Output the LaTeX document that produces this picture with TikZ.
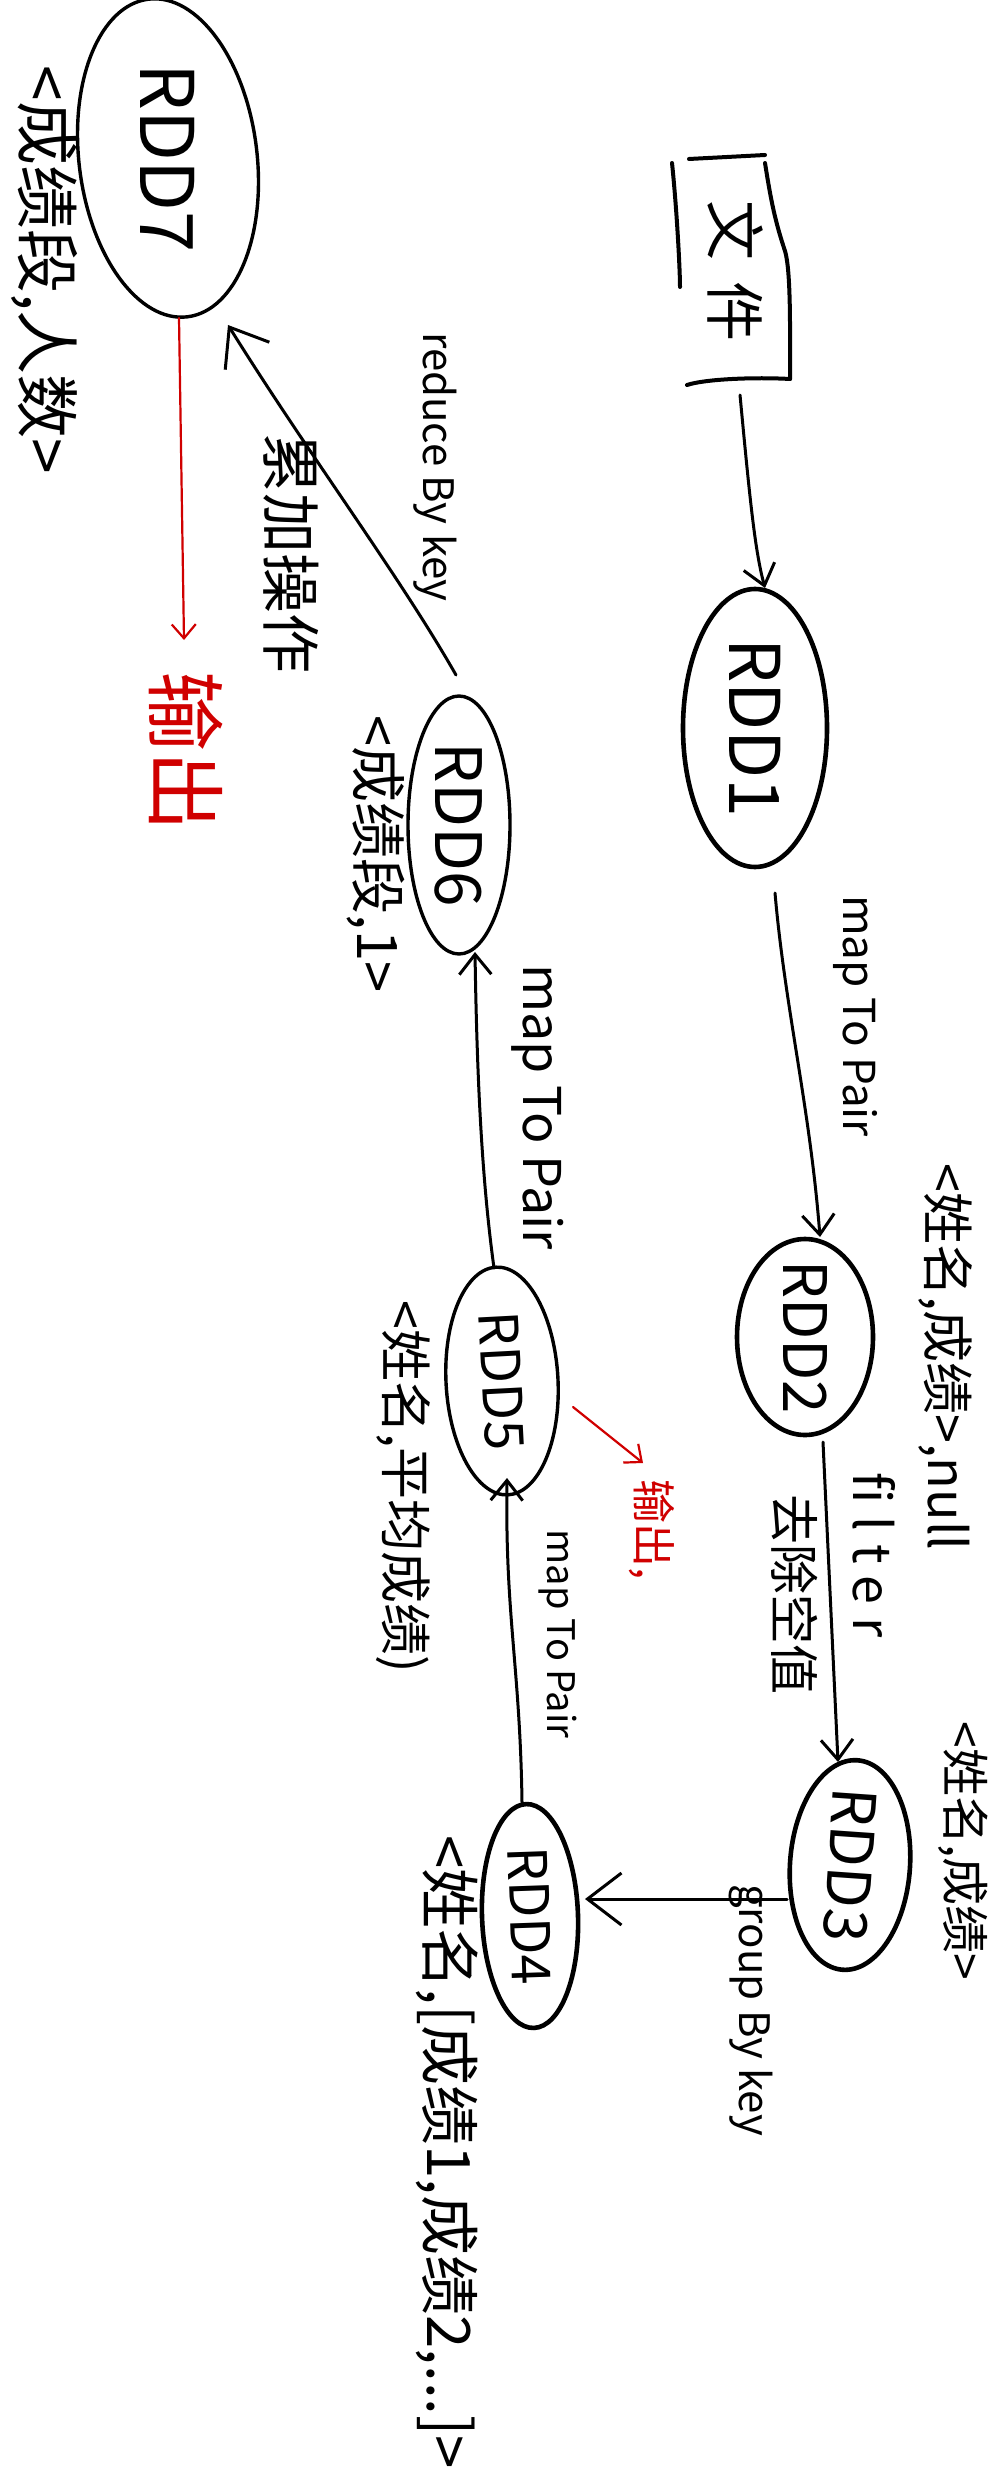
\documentclass[tikz,border=0pt]{standalone}
\usepackage{fontspec}
\setmainfont{Noto Sans CJK SC}
\usetikzlibrary{shapes.geometric,arrows.meta,calc}
\definecolor{hred}{HTML}{D00000}
\newcommand{\fsz}[1]{\fontsize{#1}{#1}\selectfont}
\newcommand{\zw}[1]{\makebox[0pt]{#1}}
\begin{document}
\begin{tikzpicture}[x=0.5pt,y=-0.5pt,
  rdd/.style={ellipse,draw,inner sep=0pt,line width=2.3pt},
  thinrdd/.style={ellipse,draw,inner sep=0pt,line width=1.7pt},
  lbl/.style={rotate=-90,inner sep=0pt},
  redlbl/.style={rotate=-90,inner sep=0pt,text=hred},
  arr/.style={line width=1.5pt,line cap=round,-{Straight Barb[length=10pt,width=16pt]}},
  bigarr/.style={line width=1.5pt,line cap=round,-{Straight Barb[length=17pt,width=26pt]}},
  redarr/.style={line width=1.1pt,line cap=round,draw=hred,-{Straight Barb[length=7pt,width=12pt]}},
  boxline/.style={line width=2pt,line cap=round,line join=round}]
\fill[white] (0,0) rectangle (1000,2482);
\useasboundingbox (0,0) rectangle (1000,2482);

% file box
\node[lbl,minimum width=110pt,minimum height=55pt] (wj) at (735,271) {\fsz{30}文\hspace{0.35em}件};
\draw[boxline] ($(wj)+(-63,-108)$) .. controls ($(wj)+(-58,-60)$) and ($(wj)+(-55,0)$) .. ($(wj)+(-55,16)$);
\draw[boxline] ($(wj)+(-46,-112)$) -- ($(wj)+(30,-116)$);
\draw[boxline] ($(wj)+(30,-108)$) .. controls ($(wj)+(36,-70)$) and ($(wj)+(40,-50)$) .. ($(wj)+(50,-20)$) .. controls ($(wj)+(56,0)$) and ($(wj)+(55,60)$) .. ($(wj)+(55,108)$);
\draw[boxline] ($(wj)+(-48,114)$) .. controls ($(wj)+(-30,108)$) and ($(wj)+(20,106)$) .. ($(wj)+(55,108)$);

% RDD nodes
\node[rdd,rotate=-90,minimum width=139pt,minimum height=72pt] (rdd1) at (755,728) {\zw{\fsz{35}RDD1}};
\node[rdd,rotate=-90,minimum width=98pt,minimum height=68pt] (rdd2) at (805,1337) {\zw{\fsz{30}RDD2}};
\node[rdd,rotate=-94,minimum width=105pt,minimum height=60pt] (rdd3) at (850,1865) {\zw{\fsz{30}RDD3}};
\node[rdd,rotate=-88,minimum width=112pt,minimum height=48pt] (rdd4) at (530,1916) {\zw{\fsz{27}RDD4}};
\node[thinrdd,rotate=-87,minimum width=114pt,minimum height=56pt] (rdd5) at (502,1381) {\zw{\fsz{27}RDD5}};
\node[thinrdd,rotate=-90,minimum width=129pt,minimum height=51pt] (rdd6) at (459,825) {\zw{\fsz{32}RDD6}};
\node[thinrdd,rotate=-83,minimum width=160pt,minimum height=89pt] (rdd7) at (168,158) {};
\node[lbl] (rdd7t) at (rdd7) {\fsz{37}RDD7};

% labels
\node[lbl] (l7) at (44,270) {\fsz{32}<成绩段,人数>};
\node[redlbl] (out7) at (186,751) {\fsz{40}输出};
\node[lbl] (lred) at (435,467) {\fsz{21}reduce By key};
\node[lbl] (lacc) at (291,554) {\fsz{30}累加操作};
\node[lbl] (l6) at (376,854) {\fsz{28}<成绩段,1>};
\node[lbl] (lm56) at (538,1107) {\fsz{26}map To Pair};
\node[lbl] (l5) at (403,1487) {\fsz{26}<姓名,平均成绩)};
\node[redlbl] (out5) at (652,1530) {\fsz{22}输出,};
\node[lbl] (lm45) at (558,1634) {\fsz{19}map To Pair};
\node[lbl] (l4) at (447,2152) {\fsz{30}<姓名,[成绩1,成绩2,...]>};
\node[lbl] (lgb) at (751,2010) {\fsz{21}group By key};
\node[lbl] (l3) at (963,1851) {\fsz{24}<姓名,成绩>};
\node[lbl] (l2) at (945,1357) {\fsz{26}<姓名,成绩>,null};
\node[lbl] (lf) at (874,1555) {\fsz{26}\addfontfeature{LetterSpace=25}filter};
\node[lbl] (lrm) at (795,1594) {\fsz{25}去除空值};
\node[lbl] (lm12) at (855,1016) {\fsz{22}map To Pair};

% connectors
\draw[arr] ($(wj)+(5,124)$) .. controls ($(wj)+(15,230)$) and ($(wj)+(20,280)$) .. ($(rdd1)+(10,-140)$);
\draw[arr] ($(rdd1)+(20,165)$) .. controls ($(rdd1)+(30,280)$) and ($(rdd1)+(55,380)$) .. ($(rdd2)+(15,-100)$);
\draw[arr] ($(rdd2)+(18,105)$) -- ($(rdd3)+(-12,-103)$);
\draw[bigarr] ($(rdd3)+(-63,34)$) -- ($(rdd4)+(55,-17)$);
\draw[arr] ($(rdd4)+(-8,-114)$) .. controls ($(rdd4)+(-10,-250)$) and ($(rdd4)+(-25,-300)$) .. ($(rdd5)+(5,97)$);
\draw[arr] ($(rdd5)+(-8,-113)$) .. controls ($(rdd5)+(-20,-200)$) and ($(rdd5)+(-25,-300)$) .. ($(rdd6)+(16,127)$);
\draw[bigarr] ($(rdd6)+(-3,-150)$) .. controls ($(rdd6)+(-60,-250)$) and ($(rdd6)+(-150,-370)$) .. ($(rdd7)+(60,167)$);
\draw[redarr] ($(rdd7)+(11,160)$) -- ($(out7)+(-2,-111)$);
\draw[redarr] ($(rdd5)+(71,26)$) -- ($(out5)+(-9,-67)$);
\end{tikzpicture}
\end{document}
